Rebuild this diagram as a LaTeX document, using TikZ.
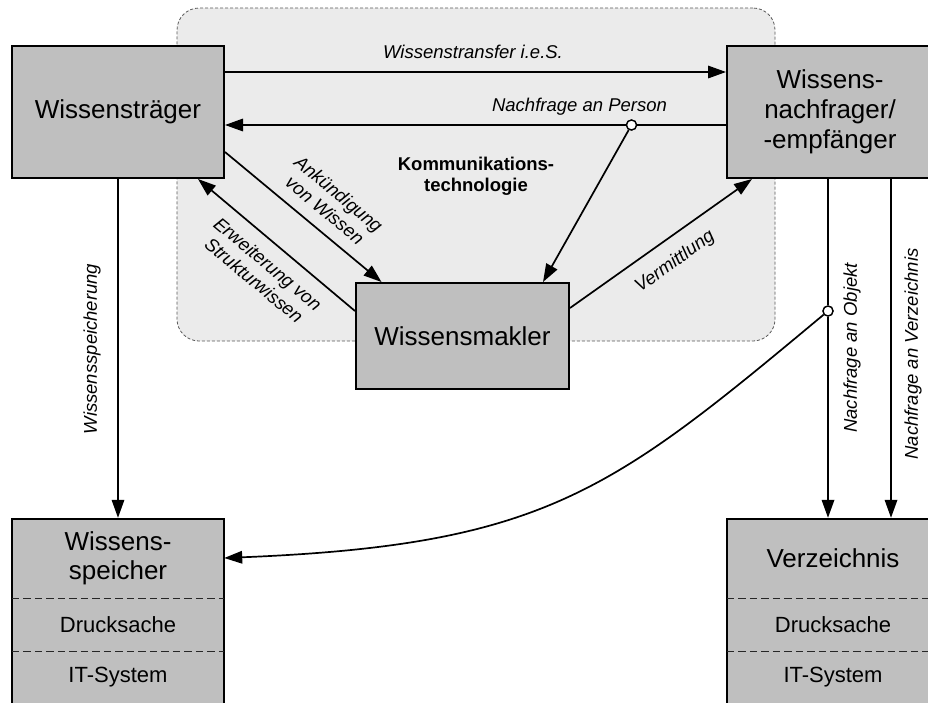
\documentclass[tikz,border=0pt]{standalone}
\usepackage{fontspec}
\setmainfont{Liberation Sans}
\usetikzlibrary{arrows.meta}
\definecolor{boxgray}{gray}{0.75}
\definecolor{bggray}{gray}{0.92}
\definecolor{framegray}{gray}{0.35}
\begin{document}
\begin{tikzpicture}[x=1pt,y=-1pt,
  box/.style={draw=black, line width=2pt, fill=boxgray, inner sep=0pt, align=center,
    font=\fontsize{26}{30}\selectfont},
  part/.style={inner sep=0pt, align=center, minimum width=212pt},
  bigtext/.style={font=\fontsize{26}{29}\selectfont},
  midtext/.style={font=\fontsize{22}{26}\selectfont},
  sep/.style={draw=black!85, line width=1.3pt, dash pattern=on 7.5pt off 4pt},
  bgframe/.style={draw=framegray, line width=0.8pt, densely dashed, fill=bggray,
    rounded corners=22pt, inner sep=0pt},
  arr/.style={line width=1.7pt, -{Triangle[length=18pt,width=12.5pt]}},
  plain/.style={line width=1.7pt},
  dot/.style={circle, draw=black, line width=1.3pt, fill=white, minimum size=10pt, inner sep=0pt},
  lbl/.style={font=\fontsize{18.5}{21.5}\selectfont\itshape, align=center, inner sep=0pt},
  ktext/.style={font=\fontsize{18.5}{21}\selectfont\bfseries, align=center, inner sep=0pt}]

\useasboundingbox (0,0) rectangle (928,702);

% communication technology area
\node[bgframe, minimum width=598pt, minimum height=333pt] (kt) at (476,174.5) {};
\node[ktext] (ktlabel) at (476,176) {Kommunikations-\\technologie};

% main actors
\node[box, minimum width=212pt, minimum height=132pt] (traeger) at (118,112) {Wissensträger};
\node[box, minimum width=206pt, minimum height=132pt] (nachfrager) at (830,112) {Wissens-\\nachfrager/\\-empfänger};
\node[box, minimum width=213pt, minimum height=106pt] (makler) at (462.5,336) {Wissensmakler};

% knowledge store
\node[box, minimum width=212pt, minimum height=200pt, anchor=north] (speicher) at (118,518) {};
\node[part, bigtext, minimum height=80pt] (spT) at (118,558) {Wissens-\\speicher};
\node[part, midtext, minimum height=53pt] (spD) at (118,624.5) {Drucksache};
\node[part, midtext, minimum height=53pt] (spI) at (118,677.5) {IT-System};
\draw[sep] (spT.south west) -- (spT.south east);
\draw[sep] (spD.south west) -- (spD.south east);

% directory
\node[box, minimum width=212pt, minimum height=200pt, anchor=north] (vz) at (833,518) {};
\node[part, bigtext, minimum height=80pt] (vzT) at (833,558) {Verzeichnis};
\node[part, midtext, minimum height=53pt] (vzD) at (833,624.5) {Drucksache};
\node[part, midtext, minimum height=53pt] (vzI) at (833,677.5) {IT-System};
\draw[sep] (vzT.south west) -- (vzT.south east);
\draw[sep] (vzD.south west) -- (vzD.south east);

% branching points
\node[dot] (pd) at (631.5,125) {};
\node[dot] (po) at (828,311) {};

% connectors
\draw[arr] ([yshift=40pt]traeger.east) -- ([yshift=40pt]nachfrager.west);
\draw[arr] ([yshift=-13pt]nachfrager.west) -- ([yshift=-13pt]traeger.east);
\draw[arr] (pd) -- ([xshift=80.5pt]makler.north);
\draw[arr] ([yshift=-40pt]traeger.east) -- ([xshift=-81pt]makler.north);
\draw[arr] ([yshift=25pt]makler.west) -- ([xshift=80pt]traeger.south);
\draw[arr] ([yshift=28pt]makler.east) -- ([xshift=-78pt]nachfrager.south);
\draw[arr] (traeger.south) -- (spT.north);
\draw[plain] ([xshift=-2pt]nachfrager.south) -- (po);
\draw[arr] (po) -- ([xshift=-5pt]vzT.north);
\draw[arr] ([xshift=61pt]nachfrager.south) -- ([xshift=58pt]vzT.north);
\draw[arr] (po) .. controls +(-216,180) and +(321,-13) .. (spT.east);

% redraw branching points on top
\node[dot] at (pd) {};
\node[dot] at (po) {};

% connector labels
\node[lbl] (lt) at (473,51.5) {Wissenstransfer i.e.S.};
\node[lbl] (lp) at (579.5,107) {Nachfrage an Person};
\node[lbl, rotate=-39.8] (la) at (332,202) {Ankündigung\\von Wissen};
\node[lbl, rotate=-39.8] (le) at (261,272) {Erweiterung von\\Strukturwissen};
\node[lbl, rotate=35.6] (lv) at (675,262) {Vermittlung};
\node[lbl, rotate=90] (ls) at (92,349) {Wissensspeicherung};
\node[lbl, rotate=90] (lo) at (852,348) {Nachfrage an Objekt};
\node[lbl, rotate=90] (lz) at (913,354) {Nachfrage an Verzeichnis};
\end{tikzpicture}
\end{document}
